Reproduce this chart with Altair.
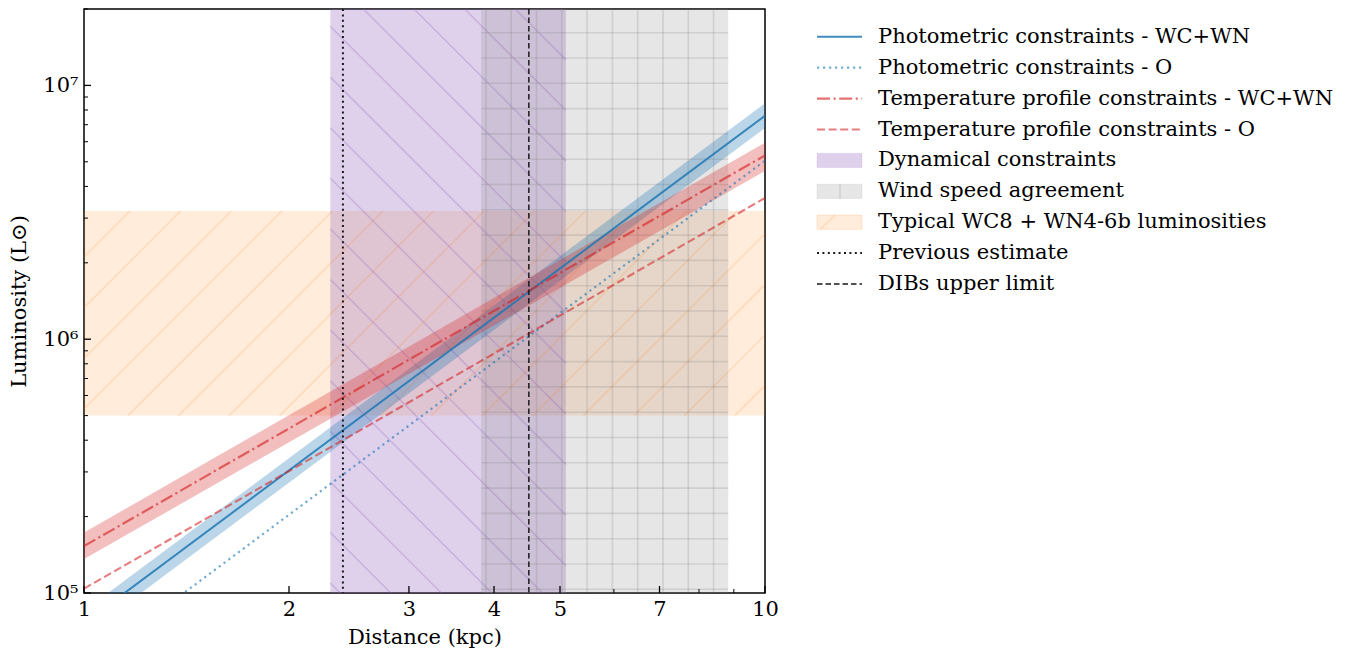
import math
import altair as alt
import numpy as np
import pandas as pd

# ---------------- data ----------------
X_DOMAIN = [1, 10]            # distance (kpc)
Y_DOMAIN = [1e5, 2e7]         # luminosity (L_sun)

dist = [1.0, 10.0]
phot_wcwn = [7.6e4, 7.6e6]
phot_wcwn_lo = [6.8e4, 6.8e6]
phot_wcwn_hi = [8.5e4, 8.5e6]
phot_o = [5.1e4, 5.05e6]
temp_wcwn = [1.53e5, 5.3e6]
temp_wcwn_lo = [1.36e5, 4.6e6]
temp_wcwn_hi = [1.73e5, 5.95e6]
temp_o = [1.04e5, 3.6e6]

dyn_range = [2.3, 5.1]
wind_range = [3.83, 8.83]
typ_lum = [5.0e5, 3.2e6]
prev_estimate = [2.4]
dib_limit = [4.5]

x_ticks = [1, 2, 3, 4, 5, 7, 10]
x_minor = [6, 8, 9]
y_ticks = [1e5, 1e6, 1e7]
y_tick_labels = ["10⁵", "10⁶", "10⁷"]
y_minor = [2e5, 3e5, 4e5, 5e5, 6e5, 7e5, 8e5, 9e5,
           2e6, 3e6, 4e6, 5e6, 6e6, 7e6, 8e6, 9e6, 2e7]

legend_labels = [
    "Photometric constraints - WC+WN",
    "Photometric constraints - O",
    "Temperature profile constraints - WC+WN",
    "Temperature profile constraints - O",
    "Dynamical constraints",
    "Wind speed agreement",
    "Typical WC8 + WN4-6b luminosities",
    "Previous estimate",
    "DIBs upper limit",
]

# ---------------- layout / style ----------------
W, H = 681, 584
FONT = "DejaVu Serif"
FS = 21
BLUE = "#1f77b4"
RED = "#d62728"
PURPLE = "#9467bd"
ORANGE = "#ff7f0e"
GRAY = "#808080"
BLACK = "#1a1a1a"

STY = {
    "blue_line": dict(color=BLUE, opacity=0.85, strokeWidth=2),
    "blue_dot": dict(color=BLUE, opacity=0.62, strokeWidth=2.2, strokeDash=[2.2, 3.8]),
    "red_dashdot": dict(color=RED, opacity=0.65, strokeWidth=2.2, strokeDash=[13, 3.5, 2.2, 3.5]),
    "red_dash": dict(color=RED, opacity=0.6, strokeWidth=2.1, strokeDash=[8, 3.6]),
    "prev": dict(color=BLACK, strokeWidth=2, strokeDash=[2, 3.4]),
    "dib": dict(color=BLACK, strokeWidth=1.5, strokeDash=[5.5, 3]),
}

PX_X = W / (math.log10(X_DOMAIN[1]) - math.log10(X_DOMAIN[0]))
PX_Y = H / (math.log10(Y_DOMAIN[1]) - math.log10(Y_DOMAIN[0]))
LX0 = math.log10(X_DOMAIN[0])
LY0 = math.log10(Y_DOMAIN[0])


def to_px(x, y):
    return (math.log10(x) - LX0) * PX_X, (math.log10(y) - LY0) * PX_Y


def from_px(u, v):
    return 10 ** (u / PX_X + LX0), 10 ** (v / PX_Y + LY0)


def diag_hatch(x0, x1, y0, y1, slope, c0, step):
    """Screen-space 45 degree hatch lines clipped to a data rectangle."""
    u0, v0 = to_px(x0, y0)
    u1, v1 = to_px(x1, y1)
    if slope > 0:
        cmin, cmax = v0 - u1, v1 - u0
    else:
        cmin, cmax = v0 + u0, v1 + u1
    rows = []
    for k in range(math.ceil((cmin - c0) / step), math.floor((cmax - c0) / step) + 1):
        c = c0 + k * step
        pts = []
        for u in (u0, u1):
            v = slope * u + c
            if v0 - 1e-9 <= v <= v1 + 1e-9:
                pts.append((u, v))
        for v in (v0, v1):
            u = (v - c) / slope
            if u0 - 1e-9 <= u <= u1 + 1e-9:
                pts.append((u, v))
        if len(pts) >= 2:
            pts.sort()
            a, b = pts[0], pts[-1]
            if abs(a[0] - b[0]) + abs(a[1] - b[1]) < 1:
                continue
            xa, ya = from_px(*a)
            xb, yb = from_px(*b)
            rows.append({"xa": xa, "ya": ya, "xb": xb, "yb": yb})
    return pd.DataFrame(rows)


xs = alt.Scale(type="log", domain=X_DOMAIN, nice=False)
ys = alt.Scale(type="log", domain=Y_DOMAIN, nice=False)

y_label_expr = " : ".join(
    f"datum.value == {v:g} ? '{lab}'" for v, lab in zip(y_ticks, y_tick_labels)
) + " : ''"

axis_common = dict(ticks=False, grid=False, domain=False, labelFlush=False,
                   labelFontSize=FS, titleFontSize=FS, labelFont=FONT, titleFont=FONT,
                   titleFontWeight="normal", labelColor="black", titleColor="black")
x_axis = alt.Axis(values=x_ticks, format="~g", title="Distance (kpc)",
                  labelPadding=5, titlePadding=7, **axis_common)
y_axis = alt.Axis(values=y_ticks, labelExpr=y_label_expr, title="Luminosity (L⊙)",
                  labelPadding=6, titlePadding=13, **axis_common)


def X(f):
    return alt.X(f"{f}:Q", scale=xs, axis=x_axis)


def Y(f):
    return alt.Y(f"{f}:Q", scale=ys, axis=y_axis)


# ---------------- bands ----------------
orange_band = alt.Chart(pd.DataFrame({"L0": [typ_lum[0]], "L1": [typ_lum[1]]})).mark_rect(
    color=ORANGE, opacity=0.15).encode(y=Y("L0"), y2="L1")
purple_band = alt.Chart(pd.DataFrame({"d0": [dyn_range[0]], "d1": [dyn_range[1]]})).mark_rect(
    color=PURPLE, opacity=0.3).encode(x=X("d0"), x2="d1")
gray_band = alt.Chart(pd.DataFrame({"d0": [wind_range[0]], "d1": [wind_range[1]]})).mark_rect(
    color=GRAY, opacity=0.2).encode(x=X("d0"), x2="d1")

# hatches (screen-space spacing, clipped to each band)
orange_h = diag_hatch(X_DOMAIN[0], X_DOMAIN[1], typ_lum[0], typ_lum[1], 1, 336, 50.6)
purple_h = diag_hatch(dyn_range[0], dyn_range[1], Y_DOMAIN[0], Y_DOMAIN[1], -1, 408, 50.6)

gx_u0, _ = to_px(3.892, 1e5)
gu_a, _ = to_px(wind_range[0], 1e5)
gu_b, _ = to_px(wind_range[1], 1e5)
step = 25.3
grid_v = []
for k in range(math.ceil((gu_a - gx_u0) / step), math.floor((gu_b - gx_u0) / step) + 1):
    grid_v.append(from_px(gx_u0 + k * step, 0)[0])
gv0 = 3.7
grid_h = []
for k in range(0, int((H - gv0) / step) + 1):
    grid_h.append(from_px(0, gv0 + k * step)[1])

orange_hatch = alt.Chart(orange_h).mark_rule(color=ORANGE, opacity=0.17, strokeWidth=1.5).encode(
    x=X("xa"), y=Y("ya"), x2="xb", y2="yb")
purple_hatch = alt.Chart(purple_h).mark_rule(color=PURPLE, opacity=0.3, strokeWidth=1.5).encode(
    x=X("xa"), y=Y("ya"), x2="xb", y2="yb")
grid_vert = alt.Chart(pd.DataFrame({"d": grid_v})).mark_rule(
    color=GRAY, opacity=0.22, strokeWidth=1.6).encode(x=X("d"))
grid_horz = alt.Chart(pd.DataFrame({"L": grid_h, "d0": wind_range[0], "d1": wind_range[1]})).mark_rule(
    color=GRAY, opacity=0.22, strokeWidth=1.6).encode(y=Y("L"), x=X("d0"), x2="d1")

# ---------------- constraint lines ----------------
lines_df = pd.DataFrame({
    "d": dist,
    "pw": phot_wcwn, "pw_lo": phot_wcwn_lo, "pw_hi": phot_wcwn_hi,
    "po": phot_o,
    "tw": temp_wcwn, "tw_lo": temp_wcwn_lo, "tw_hi": temp_wcwn_hi,
    "to": temp_o,
})
base = alt.Chart(lines_df)
blue_band = base.mark_area(color=BLUE, opacity=0.3, clip=True).encode(x=X("d"), y=Y("pw_lo"), y2="pw_hi")
red_band = base.mark_area(color=RED, opacity=0.3, clip=True).encode(x=X("d"), y=Y("tw_lo"), y2="tw_hi")
blue_line = base.mark_line(clip=True, **STY["blue_line"]).encode(x=X("d"), y=Y("pw"))
blue_dot = base.mark_line(clip=True, **STY["blue_dot"]).encode(x=X("d"), y=Y("po"))
red_dashdot = base.mark_line(clip=True, **STY["red_dashdot"]).encode(x=X("d"), y=Y("tw"))
red_dash = base.mark_line(clip=True, **STY["red_dash"]).encode(x=X("d"), y=Y("to"))

prev_rule = alt.Chart(pd.DataFrame({"d": prev_estimate})).mark_rule(**STY["prev"]).encode(x=X("d"))
dib_rule = alt.Chart(pd.DataFrame({"d": dib_limit})).mark_rule(**STY["dib"]).encode(x=X("d"))

# inward ticks
xt_major = alt.Chart(pd.DataFrame({"d": x_ticks})).mark_rule(color="black", strokeWidth=1.3).encode(
    x=X("d"), y=alt.value(H), y2=alt.value(H - 7))
xt_minor = alt.Chart(pd.DataFrame({"d": x_minor})).mark_rule(color="black", strokeWidth=1).encode(
    x=X("d"), y=alt.value(H), y2=alt.value(H - 4))
yt_major = alt.Chart(pd.DataFrame({"L": y_ticks})).mark_rule(color="black", strokeWidth=1.3).encode(
    y=Y("L"), x=alt.value(0), x2=alt.value(7))
yt_minor = alt.Chart(pd.DataFrame({"L": y_minor})).mark_rule(color="black", strokeWidth=1).encode(
    y=Y("L"), x=alt.value(0), x2=alt.value(4))

main = alt.layer(
    orange_band, purple_band, gray_band,
    orange_hatch, purple_hatch, grid_vert, grid_horz,
    blue_band, red_band, blue_line, blue_dot, red_dashdot, red_dash,
    prev_rule, dib_rule, xt_major, xt_minor, yt_major, yt_minor,
).properties(width=W, height=H,
             view=alt.ViewBackground(stroke="black", strokeWidth=1.5, fill="white"))

# ---------------- legend panel ----------------
LW = 520
leg = pd.DataFrame({"row": list(range(len(legend_labels))), "label": legend_labels})
ly_scale = alt.Scale(domain=[-0.9, 18.0], reverse=True)
LY = alt.Y("row:Q", scale=ly_scale, axis=None)
lbase = alt.Chart(leg)
leg_text = lbase.mark_text(align="left", baseline="middle", font=FONT, fontSize=FS,
                           color="black").encode(x=alt.value(68), y=LY, text="label:N")


def leg_line(row, **kw):
    return lbase.transform_filter(f"datum.row == {row}").mark_rule(**kw).encode(
        x=alt.value(7), x2=alt.value(52), y=LY)


def leg_box(row):
    return lbase.transform_filter(f"datum.row == {row}").transform_calculate(
        top="datum.row - 0.23", bot="datum.row + 0.23")


def leg_rect(row, **kw):
    return leg_box(row).mark_rect(**kw).encode(
        x=alt.value(7), x2=alt.value(52), y=alt.Y("top:Q", scale=ly_scale, axis=None), y2="bot:Q")


def leg_mark(row, xa, xb, **kw):
    return leg_box(row).mark_rule(**kw).encode(
        x=alt.value(xa), x2=alt.value(xb), y=alt.Y("bot:Q", scale=ly_scale, axis=None), y2="top:Q")


legend = alt.layer(
    leg_line(0, **STY["blue_line"]),
    leg_line(1, **STY["blue_dot"]),
    leg_line(2, **STY["red_dashdot"]),
    leg_line(3, **STY["red_dash"]),
    leg_rect(4, fill=PURPLE, fillOpacity=0.3, stroke=PURPLE, strokeOpacity=0.12, strokeWidth=1),
    leg_rect(5, fill=GRAY, fillOpacity=0.2, stroke=GRAY, strokeOpacity=0.12, strokeWidth=1),
    leg_mark(5, 30, 30, color=GRAY, opacity=0.22, strokeWidth=1.6),
    leg_rect(6, fill=ORANGE, fillOpacity=0.15, stroke=ORANGE, strokeOpacity=0.15, strokeWidth=1),
    leg_mark(6, 10, 25, color=ORANGE, opacity=0.17, strokeWidth=1.5),
    leg_line(7, **STY["prev"]),
    leg_line(8, **STY["dib"]),
    leg_text,
).properties(width=LW, height=H, view=alt.ViewBackground(stroke=None))

chart = alt.hconcat(main, legend, spacing=45, bounds="flush").properties(
    padding={"left": 8, "top": 7, "right": 0, "bottom": 0}
).configure(font=FONT).configure_view(stroke=None)

chart.save("out.html", embed_options={"renderer": "svg", "actions": False})
